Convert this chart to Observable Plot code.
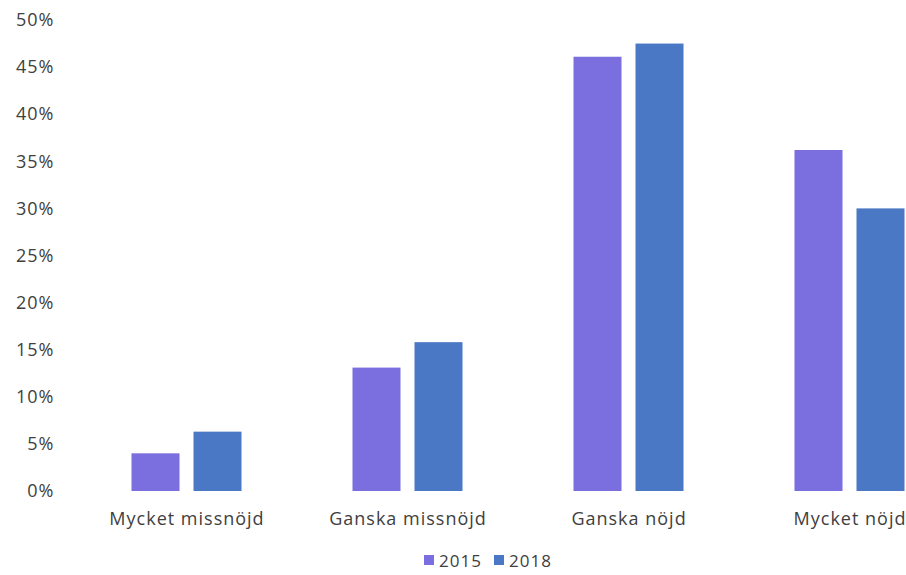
<!DOCTYPE html>
<html><head><meta charset="utf-8">
<script src="https://cdn.jsdelivr.net/npm/d3@7"></script>
<script src="https://cdn.jsdelivr.net/npm/@observablehq/plot@0.6"></script>
<style>
body{margin:0;background:#fff;font-family:"Open Sans",sans-serif;}
#legend{display:flex;justify-content:center;align-items:center;height:30px;padding-left:70px;font-size:17px;color:#404040;letter-spacing:1px;}
#legend .item{display:flex;align-items:center;margin:0 6px;}
#legend .sw{width:10px;height:10px;margin-right:5px;}
</style></head><body><div id="chart"></div><div id="legend"></div>
<script>
const categories = ["Mycket missnöjd", "Ganska missnöjd", "Ganska nöjd", "Mycket nöjd"];
const years = ["2015", "2018"];
const values2015 = [4.0, 13.1, 46.1, 36.2];
const values2018 = [6.3, 15.8, 47.5, 30.0];
const yTicks = [0, 5, 10, 15, 20, 25, 30, 35, 40, 45, 50];
const colors = ["#7b6fdf", "#4a78c4"];

const data = categories.flatMap((c, i) => [
  {category: c, year: years[0], value: values2015[i]},
  {category: c, year: years[1], value: values2018[i]}
]);

const chart = Plot.plot({
  width: 906, height: 545,
  marginTop: 20, marginBottom: 54, marginLeft: 75.5, marginRight: 0,
  style: {fontFamily: "Open Sans", fontSize: "18px", color: "#404040", letterSpacing: "1px", background: "#fff"},
  fx: {domain: categories, range: [75.5, 959.5], padding: 0, label: null, axis: "bottom", tickSize: 0, tickPadding: 21},
  x: {domain: years, paddingInner: 0.222, paddingOuter: 0.865, axis: null},
  y: {domain: [0, 50], ticks: yTicks, tickFormat: d => d + "%", tickSize: 0, tickPadding: 22, label: null},
  color: {domain: years, range: colors},
  marks: [
    Plot.barY(data, {fx: "category", x: "year", y: "value", fill: "year"})
  ]
});
document.getElementById("chart").appendChild(chart);

const legend = document.getElementById("legend");
years.forEach((y, i) => {
  const item = document.createElement("div");
  item.className = "item";
  const sw = document.createElement("span");
  sw.className = "sw";
  sw.style.background = colors[i];
  const t = document.createElement("span");
  t.textContent = y;
  item.appendChild(sw); item.appendChild(t);
  legend.appendChild(item);
});
</script></body></html>
